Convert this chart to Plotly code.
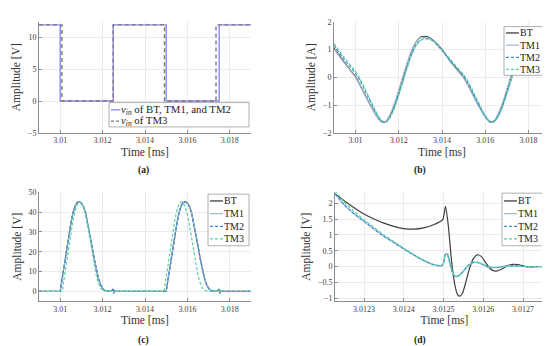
import plotly.graph_objects as go

# ---------------- data ----------------
# (a) input voltage
a_t_main = [3.009, 3.010, 3.0125, 3.015, 3.0175, 3.019]
a_v_main = [12, 0, 12, 0, 12, 12]
a_t_tm3 = [3.009, 3.01008, 3.0125, 3.01492, 3.01735, 3.019]
a_v_tm3 = [12, 0, 12, 0, 12, 12]

# (b) current
b_t = [3.0090, 3.0092, 3.0094, 3.0096, 3.0098, 3.0100, 3.0102, 3.0104, 3.0106, 3.0108,
       3.0110, 3.0112, 3.0114, 3.0116, 3.0118, 3.0120, 3.0122, 3.0124, 3.0126, 3.0128,
       3.0130, 3.0132, 3.0134, 3.0136, 3.0138, 3.0140, 3.0142, 3.0144, 3.0146, 3.0148,
       3.0150, 3.0152, 3.0154, 3.0156, 3.0158, 3.0160, 3.0162, 3.0164, 3.0166, 3.0168,
       3.0170, 3.0172, 3.0174, 3.0176, 3.0178, 3.0180, 3.0182, 3.0184, 3.0186, 3.0188,
       3.0190]
b_bt = [1.05, 0.83, 0.62, 0.42, 0.21, 0.02, -0.28, -0.58, -0.88, -1.16,
        -1.42, -1.60, -1.60, -1.36, -0.98, -0.50, 0.02, 0.52, 0.95, 1.27,
        1.44, 1.47, 1.44, 1.33, 1.17, 1.00, 0.78, 0.57, 0.38, 0.19,
        0.00, -0.28, -0.58, -0.88, -1.16, -1.42, -1.60, -1.59, -1.35, -0.97,
        -0.49, 0.03, 0.53, 0.96, 1.27, 1.44, 1.47, 1.44, 1.33, 1.17,
        1.00]
b_tm1 = [1.02, 0.80, 0.59, 0.39, 0.19, -0.01, -0.30, -0.60, -0.90, -1.18,
         -1.43, -1.60, -1.59, -1.33, -0.94, -0.46, 0.06, 0.55, 0.97, 1.27,
         1.42, 1.44, 1.41, 1.30, 1.13, 0.97, 0.75, 0.54, 0.35, 0.16,
         -0.02, -0.30, -0.60, -0.90, -1.18, -1.43, -1.60, -1.57, -1.32, -0.93,
         -0.45, 0.07, 0.56, 0.97, 1.27, 1.42, 1.44, 1.41, 1.30, 1.13,
         0.97]
b_tm2 = [1.15, 0.93, 0.72, 0.52, 0.33, 0.14, -0.12, -0.42, -0.74, -1.05,
         -1.35, -1.58, -1.61, -1.42, -1.06, -0.60, -0.10, 0.40, 0.84, 1.16,
         1.34, 1.39, 1.38, 1.30, 1.15, 0.98, 0.78, 0.58, 0.40, 0.22,
         0.05, -0.20, -0.50, -0.82, -1.12, -1.40, -1.59, -1.60, -1.40, -1.04,
         -0.58, -0.08, 0.42, 0.85, 1.17, 1.34, 1.39, 1.38, 1.30, 1.15,
         0.98]
b_tm3 = [1.22, 1.00, 0.79, 0.59, 0.40, 0.21, -0.05, -0.36, -0.69, -1.01,
         -1.32, -1.56, -1.62, -1.45, -1.10, -0.65, -0.15, 0.36, 0.80, 1.13,
         1.32, 1.38, 1.38, 1.31, 1.18, 1.02, 0.83, 0.63, 0.45, 0.27,
         0.10, -0.14, -0.44, -0.76, -1.08, -1.37, -1.57, -1.61, -1.43, -1.08,
         -0.62, -0.12, 0.38, 0.82, 1.14, 1.32, 1.38, 1.38, 1.31, 1.18,
         1.02]

# (c) output voltage
c_t = [3.0090, 3.0100, 3.0101, 3.0102, 3.0103, 3.0104, 3.0105, 3.0106, 3.0107, 3.0108,
       3.0109, 3.0110, 3.0111, 3.0112, 3.0113, 3.0114, 3.0115, 3.0116, 3.0117, 3.0118,
       3.0119, 3.0120, 3.0121, 3.0122, 3.0123, 3.0124, 3.01250, 3.01253, 3.01258, 3.01262,
       3.0150, 3.0151, 3.0152, 3.0153, 3.0154, 3.0155, 3.0156, 3.0157, 3.0158, 3.0159,
       3.0160, 3.0161, 3.0162, 3.0163, 3.0164, 3.0165, 3.0166, 3.0167, 3.0168, 3.0169,
       3.0170, 3.0171, 3.0172, 3.0173, 3.0174, 3.01750, 3.01753, 3.01758, 3.01762, 3.0190]
c_bt = [0, 0, 7, 14, 21, 28, 34, 39.5, 43, 44.8,
        45.2, 44.6, 42.8, 39.5, 34.5, 28.8, 22.8, 16.8, 11.3, 6.8,
        3.5, 1.5, 0.5, 0.1, 0, 0, 1.2, -1.0, 0.4, 0,
        0, 7, 14, 21, 28, 34, 39.5, 43, 44.8, 45.2,
        44.6, 42.8, 39.5, 34.5, 28.8, 22.8, 16.8, 11.3, 6.8, 3.5,
        1.5, 0.5, 0.1, 0, 0, 1.2, -1.0, 0.4, 0, 0]
c_tm1 = [0, 0, 6.8, 13.8, 20.8, 27.7, 33.8, 39.2, 42.8, 44.6,
         45.0, 44.5, 42.7, 39.4, 34.4, 28.7, 22.7, 16.8, 11.3, 6.9,
         3.6, 1.6, 0.5, 0.1, 0, 0, 0.8, -0.6, 0.2, 0,
         0, 6.8, 13.8, 20.8, 27.7, 33.8, 39.2, 42.8, 44.6, 45.0,
         44.5, 42.7, 39.4, 34.4, 28.7, 22.7, 16.8, 11.3, 6.9, 3.6,
         1.6, 0.5, 0.1, 0, 0, 0.8, -0.6, 0.2, 0, 0]
c_tm2 = [0, 0, 6.9, 13.9, 20.9, 27.8, 33.9, 39.3, 42.9, 44.7,
         45.1, 44.5, 42.7, 39.3, 34.3, 28.6, 22.6, 16.6, 11.1, 6.7,
         3.4, 1.4, 0.4, 0.1, 0, 0, 0.8, -0.6, 0.2, 0,
         0, 6.9, 13.9, 20.9, 27.8, 33.9, 39.3, 42.9, 44.7, 45.1,
         44.5, 42.7, 39.3, 34.3, 28.6, 22.6, 16.6, 11.1, 6.7, 3.4,
         1.4, 0.4, 0.1, 0, 0, 0.8, -0.6, 0.2, 0, 0]
c_t_tm3 = [3.0090, 3.0101, 3.0102, 3.0103, 3.0104, 3.0105, 3.0106, 3.0107, 3.0108, 3.0109,
           3.0110, 3.0111, 3.0112, 3.0113, 3.0114, 3.0115, 3.0116, 3.0117, 3.0118, 3.0119,
           3.0120, 3.0121, 3.0122, 3.0149, 3.0150, 3.0151, 3.0152, 3.0153, 3.0154, 3.0155,
           3.0156, 3.0157, 3.0158, 3.0159, 3.0160, 3.0161, 3.0162, 3.0163, 3.0164, 3.0165,
           3.0166, 3.0167, 3.0168, 3.0169, 3.0170, 3.0190]
c_tm3 = [0, 0, 7.5, 15, 22.5, 29.5, 35.5, 40.5, 43.8, 45.2,
         44.8, 42.5, 38.5, 33, 26.5, 19.8, 13.5, 8.2, 4.3, 1.8,
         0.6, 0.1, 0, 0, 7.5, 15, 22.5, 29.5, 35.5, 40.5,
         43.8, 45.2, 44.8, 42.5, 38.5, 33, 26.5, 19.8, 13.5, 8.2,
         4.3, 1.8, 0.6, 0.1, 0, 0]

# (d) zoom on the output voltage around the switching instant
d_t_bt = [3.012227, 3.012250, 3.012275, 3.012300, 3.012325, 3.012350, 3.012375, 3.012400,
          3.012425, 3.012450, 3.012475, 3.012498, 3.012505, 3.012512, 3.012520, 3.012528,
          3.012535, 3.012541, 3.012548, 3.012556, 3.012565, 3.012575, 3.012585, 3.012595,
          3.012605, 3.012615, 3.012625, 3.012635, 3.012648, 3.012662, 3.012675, 3.012688,
          3.012700, 3.012715, 3.012740, 3.012780]
d_bt = [2.30, 2.08, 1.86, 1.66, 1.50, 1.37, 1.27, 1.20,
        1.18, 1.22, 1.32, 1.48, 1.90, 1.30, 0.20, -0.55,
        -0.88, -0.94, -0.84, -0.50, -0.08, 0.25, 0.37, 0.32,
        0.14, -0.04, -0.13, -0.14, -0.07, 0.03, 0.07, 0.06,
        0.02, -0.01, 0.00, 0.00]
d_t_tm = [3.012227, 3.012250, 3.012275, 3.012300, 3.012325, 3.012350, 3.012375, 3.012400,
          3.012425, 3.012450, 3.012475, 3.012495, 3.012500, 3.012505, 3.012510, 3.012517,
          3.012524, 3.012531, 3.012540, 3.012550, 3.012562, 3.012575, 3.012588, 3.012600,
          3.012612, 3.012625, 3.012640, 3.012660, 3.012680, 3.012700, 3.012780]
d_tm1 = [2.30, 1.95, 1.66, 1.42, 1.18, 0.95, 0.75, 0.55,
         0.36, 0.18, 0.05, 0.01, 0.12, 0.40, 0.38, 0.05,
         -0.25, -0.33, -0.28, -0.14, 0.04, 0.13, 0.12, 0.05,
         -0.02, -0.04, -0.02, 0.02, 0.02, 0.00, 0.00]
d_tm2 = [2.30, 1.96, 1.67, 1.43, 1.19, 0.96, 0.76, 0.56,
         0.37, 0.19, 0.06, 0.02, 0.11, 0.39, 0.37, 0.06,
         -0.24, -0.32, -0.28, -0.15, 0.03, 0.13, 0.12, 0.05,
         -0.02, -0.04, -0.02, 0.02, 0.02, 0.00, 0.00]
d_tm3 = [2.40, 2.04, 1.74, 1.48, 1.24, 1.00, 0.79, 0.58,
         0.38, 0.20, 0.07, 0.02, 0.10, 0.36, 0.40, 0.10,
         -0.20, -0.31, -0.29, -0.16, 0.02, 0.12, 0.13, 0.07,
         0.00, -0.03, -0.02, 0.01, 0.02, 0.00, 0.00]

# tick labels
x_tickvals = [3.010, 3.012, 3.014, 3.016, 3.018]
x_ticktext = ["3.01", "3.012", "3.014", "3.016", "3.018"]
d_tickvals = [3.0123, 3.0124, 3.0125, 3.0126, 3.0127]
d_ticktext = ["3.0123", "3.0124", "3.0125", "3.0126", "3.0127"]

series_names = ["BT", "TM1", "TM2", "TM3"]
vin_names = ["<i>v</i><sub><i>in</i></sub> of BT, TM1, and TM2", "<i>v</i><sub><i>in</i></sub> of TM3"]

# ---------------- styling ----------------
FONT = "Liberation Serif"
C_VIN = "#8a8af0"
C_VIN3 = "#7a7a7a"
C_BT = "#3f3f3f"
C_TM1 = "#a9bbd2"
C_TM2 = "#3a8ad6"
C_TM3 = "#55d39a"
LW = 1.2
DASH = "3px,2px"
COLORS = [C_BT, C_TM1, C_TM2, C_TM3]
DASHES = ["solid", "solid", DASH, DASH]

W, H = 550, 346
def fx(p): return p / W
def fy(p): return 1 - p / H

fig = go.Figure()

# (a)
fig.add_trace(go.Scatter(x=a_t_main, y=a_v_main, mode="lines", line=dict(color=C_VIN, width=1.4, shape="hv"),
                         name=vin_names[0], xaxis="x", yaxis="y"))
fig.add_trace(go.Scatter(x=a_t_tm3, y=a_v_tm3, mode="lines", line=dict(color=C_VIN3, width=1.4, shape="hv", dash="4px,3px"),
                         name=vin_names[1], xaxis="x", yaxis="y"))

# (b)
for name, y, col, dash in zip(series_names, [b_bt, b_tm1, b_tm2, b_tm3], COLORS, DASHES):
    fig.add_trace(go.Scatter(x=b_t, y=y, mode="lines", name=name,
                             line=dict(color=col, width=LW, dash=dash, shape="spline", smoothing=0.8),
                             xaxis="x2", yaxis="y2"))

# (c)
for name, x, y, col, dash in zip(series_names, [c_t, c_t, c_t, c_t_tm3], [c_bt, c_tm1, c_tm2, c_tm3], COLORS, DASHES):
    fig.add_trace(go.Scatter(x=x, y=y, mode="lines", name=name,
                             line=dict(color=col, width=LW, dash=dash),
                             xaxis="x3", yaxis="y3"))

# (d)
for name, x, y, col, dash in zip(series_names, [d_t_bt, d_t_tm, d_t_tm, d_t_tm], [d_bt, d_tm1, d_tm2, d_tm3], COLORS, DASHES):
    fig.add_trace(go.Scatter(x=x, y=y, mode="lines", name=name,
                             line=dict(color=col, width=LW, dash=dash, shape="spline", smoothing=0.6),
                             xaxis="x4", yaxis="y4"))

axis_common = dict(showgrid=True, gridcolor="#ebebeb", gridwidth=1, showline=True, linecolor="#8c8c8c",
                   linewidth=1, ticks="inside", ticklen=3, tickcolor="#8c8c8c", zeroline=False,
                   tickfont=dict(family=FONT, size=8, color="#404040"))
title_font = dict(family=FONT, size=11.5, color="#333333")

def xa(domain, anchor, rng, tv, tt):
    return dict(axis_common, domain=domain, anchor=anchor, range=rng, tickvals=tv, ticktext=tt,
                title=dict(text="Time [ms]", font=title_font, standoff=3))

def ya(domain, anchor, rng, tv, tt, unit):
    return dict(axis_common, domain=domain, anchor=anchor, range=rng, tickvals=tv, ticktext=tt,
                title=dict(text="Amplitude [%s]" % unit, font=title_font, standoff=4))

top_dom = [fy(124), fy(10)]
bot_dom = [fy(297), fy(185)]

fig.update_layout(
    width=W, height=H, margin=dict(l=0, r=0, t=0, b=0),
    paper_bgcolor="white", plot_bgcolor="white",
    font=dict(family=FONT, color="#333333"),
    showlegend=False,
    xaxis=xa([fx(31), fx(243)], "y", [3.009, 3.019], x_tickvals, x_ticktext),
    yaxis=ya(top_dom, "x", [-5, 12.5], [-5, 0, 5, 10], ["−5", "0", "5", "10"], "V"),
    xaxis2=xa([fx(326), fx(542)], "y2", [3.009, 3.019], x_tickvals, x_ticktext),
    yaxis2=ya(top_dom, "x2", [-2, 2], [-2, -1, 0, 1, 2], ["−2", "−1", "0", "1", "2"], "A"),
    xaxis3=xa([fx(31), fx(243)], "y3", [3.009, 3.019], x_tickvals, x_ticktext),
    yaxis3=ya(bot_dom, "x3", [-5, 50], [0, 10, 20, 30, 40, 50], ["0", "10", "20", "30", "40", "50"], "V"),
    xaxis4=xa([fx(327), fx(546)], "y4", [3.012227, 3.012778], d_tickvals, d_ticktext),
    yaxis4=ya(bot_dom, "x4", [-1.1, 2.35], [-1, -0.5, 0, 0.5, 1, 1.5, 2],
              ["−1", "−0.5", "0", "0.5", "1", "1.5", "2"], "V"),
)

# ---------- legends (drawn as boxes with line samples and text) ----------
def add_legend(box, line_x, text_x, rows, size):
    x0, y0, x1, y1 = box
    fig.add_shape(type="rect", xref="paper", yref="paper", x0=fx(x0), x1=fx(x1), y0=fy(y1), y1=fy(y0),
                  fillcolor="white", line=dict(color="#9a9a9a", width=0.8), layer="above")
    for label, col, dash, yc in rows:
        fig.add_shape(type="line", xref="paper", yref="paper", x0=fx(line_x[0]), x1=fx(line_x[1]),
                      y0=fy(yc), y1=fy(yc), line=dict(color=col, width=1.3, dash=dash), layer="above")
        fig.add_annotation(text=label, x=fx(text_x), y=fy(yc), xref="paper", yref="paper", showarrow=False,
                           xanchor="left", yanchor="middle", borderpad=0,
                           font=dict(family=FONT, size=size, color="#222222"))

add_legend((101, 93, 241, 118), (103, 112.5), 112,
           [(vin_names[0], C_VIN, "solid", 100.5), (vin_names[1], C_VIN3, "3px,2px", 112)], 10.8)
rows_top = [21.5, 34, 46.5, 59]
rows_bot = [194, 207, 220, 233]
add_legend((496, 15, 537, 65), (498, 511), 510.5,
           list(zip(series_names, COLORS, DASHES, rows_top)), 10)
add_legend((200, 187, 241, 240), (202, 215), 214.5,
           list(zip(series_names, COLORS, DASHES, rows_bot)), 10)
add_legend((494, 186, 537, 240), (496, 509), 508.5,
           list(zip(series_names, COLORS, DASHES, rows_bot)), 10)

for lab, px, py in [("(a)", 135, 163), ("(b)", 412, 163), ("(c)", 135, 337), ("(d)", 412, 337)]:
    fig.add_annotation(text=lab, x=fx(px), y=fy(py), xref="paper", yref="paper",
                       showarrow=False, font=dict(family=FONT, size=9.5, color="#222222", weight="bold"),
                       xanchor="center", yanchor="middle")

fig.write_html("out.html")
